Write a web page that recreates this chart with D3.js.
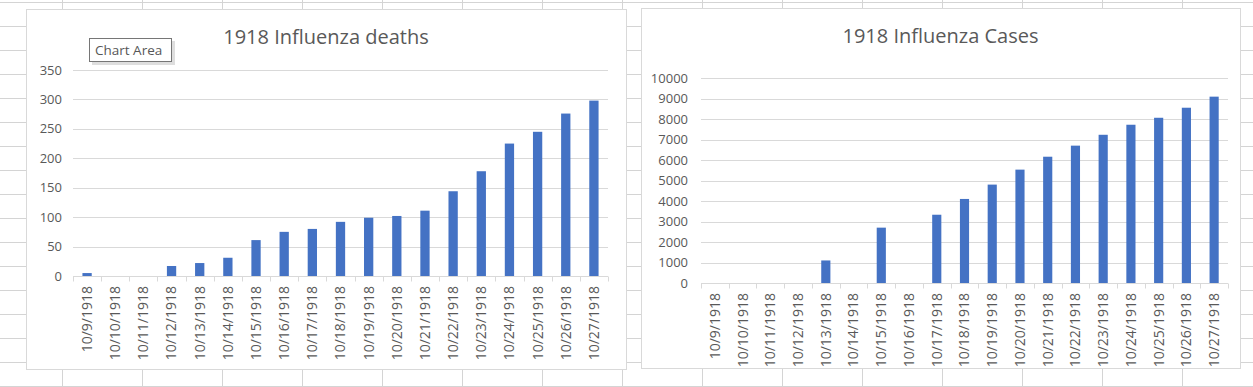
<!DOCTYPE html>
<html>
<head>
<meta charset="utf-8">
<script src="https://cdn.jsdelivr.net/npm/d3@7"></script>
<style>
  body { margin: 0; background: #fff; }
  svg text { font-family: "Open Sans", "Noto Sans", sans-serif; fill: #595959; }
</style>
</head>
<body>
<div id="sheet"></div>
<script>
// data
var dates = ["10/9/1918", "10/10/1918", "10/11/1918", "10/12/1918", "10/13/1918",
  "10/14/1918", "10/15/1918", "10/16/1918", "10/17/1918", "10/18/1918", "10/19/1918",
  "10/20/1918", "10/21/1918", "10/22/1918", "10/23/1918", "10/24/1918", "10/25/1918",
  "10/26/1918", "10/27/1918"];
var deaths = [5, 0, 0, 17, 22, 31, 61, 75, 80, 92, 99, 102, 111, 144, 178, 225, 245, 276, 298];
var cases = [0, 0, 0, 0, 1100, 0, 2700, 0, 3330, 4100, 4800, 5530, 6160, 6700, 7230, 7720, 8060, 8550, 9090];
var deathTicks = [0, 50, 100, 150, 200, 250, 300, 350];
var caseTicks = [0, 1000, 2000, 3000, 4000, 5000, 6000, 7000, 8000, 9000, 10000];

var W = 1253, H = 387;

var svg = d3.select("#sheet")
  .append("svg")
  .attr("width", W)
  .attr("height", H);

// spreadsheet cell grid behind the charts
var grid = svg.append("g").attr("stroke", "#d4d4d4").attr("stroke-width", 1);
for (var gx = 62.5; gx < W; gx += 80) {
  grid.append("line").attr("x1", gx).attr("x2", gx).attr("y1", 0).attr("y2", H);
}
for (var gy = 2.5; gy < H; gy += 24) {
  grid.append("line").attr("x1", 0).attr("x2", W).attr("y1", gy).attr("y2", gy);
}

function drawChart(opt) {
  var g = svg.append("g");

  // chart area box
  g.append("rect")
    .attr("x", opt.box[0] + 0.5)
    .attr("y", opt.box[1] + 0.5)
    .attr("width", opt.box[2])
    .attr("height", opt.box[3])
    .attr("fill", "#fff")
    .attr("stroke", "#d9d9d9");

  var x = d3.scaleBand()
    .domain(dates)
    .range([opt.left, opt.right])
    .paddingInner(0.67)
    .paddingOuter(0.335);

  var y = d3.scaleLinear()
    .domain([0, d3.max(opt.ticks)])
    .range([opt.bottom, opt.top]);

  // horizontal gridlines
  g.selectAll(".grid")
    .data(opt.ticks.slice(1))
    .enter()
    .append("line")
    .attr("x1", opt.left)
    .attr("x2", opt.right)
    .attr("y1", d => Math.round(y(d)) + 0.5)
    .attr("y2", d => Math.round(y(d)) + 0.5)
    .attr("stroke", "#d9d9d9");

  // y labels
  g.selectAll(".ylab")
    .data(opt.ticks)
    .enter()
    .append("text")
    .attr("x", opt.left - opt.labelGap)
    .attr("y", d => y(d))
    .attr("dy", "0.35em")
    .attr("text-anchor", "end")
    .style("font-size", "13px")
    .text(d => d);

  // bars
  g.selectAll(".bar")
    .data(opt.values)
    .enter()
    .append("rect")
    .attr("x", (d, i) => x(dates[i]))
    .attr("width", x.bandwidth())
    .attr("y", d => y(d))
    .attr("height", d => opt.bottom - y(d))
    .attr("fill", "#4472c4");

  // category axis line and ticks at band boundaries
  var axisY = Math.round(opt.bottom) + 0.5;
  g.append("line")
    .attr("x1", opt.left)
    .attr("x2", opt.right)
    .attr("y1", axisY)
    .attr("y2", axisY)
    .attr("stroke", "#d9d9d9");

  var step = (opt.right - opt.left) / dates.length;
  g.selectAll(".xtick")
    .data(d3.range(dates.length + 1))
    .enter()
    .append("line")
    .attr("x1", i => Math.round(opt.left + i * step) + 0.5)
    .attr("x2", i => Math.round(opt.left + i * step) + 0.5)
    .attr("y1", axisY)
    .attr("y2", axisY + 5)
    .attr("stroke", "#d9d9d9");

  // rotated date labels
  g.selectAll(".xlab")
    .data(dates)
    .enter()
    .append("text")
    .attr("transform", d => "translate(" + (x(d) + x.bandwidth() / 2) + "," + (opt.bottom + 10) + ") rotate(-90)")
    .attr("dy", "0.35em")
    .attr("text-anchor", "end")
    .style("font-size", "14px")
    .text(d => d);

  // title
  g.append("text")
    .attr("x", opt.box[0] + opt.box[2] / 2)
    .attr("y", opt.titleY)
    .attr("text-anchor", "middle")
    .style("font-size", "20px")
    .text(opt.title);
}

drawChart({
  title: "1918 Influenza deaths",
  values: deaths,
  ticks: deathTicks,
  box: [26, 9, 600, 360],
  left: 73, right: 608, top: 70, bottom: 276,
  labelGap: 11, titleY: 44
});

drawChart({
  title: "1918 Influenza Cases",
  values: cases,
  ticks: caseTicks,
  box: [641, 8, 599, 360],
  left: 701, right: 1228, top: 78, bottom: 283,
  labelGap: 13, titleY: 43
});

// the "Chart Area" hover tip from the screenshot
var tip = svg.append("g").attr("transform", "translate(89,38)");
tip.append("rect")
  .attr("x", 3).attr("y", 3).attr("width", 83).attr("height", 24)
  .attr("fill", "#c8c8c8").attr("opacity", 0.6);
tip.append("rect")
  .attr("x", 0.5).attr("y", 0.5).attr("width", 82).attr("height", 23)
  .attr("fill", "#fff").attr("stroke", "#767676");
tip.append("text")
  .attr("x", 6).attr("y", 17)
  .style("font-size", "13.5px")
  .style("fill", "#575757")
  .text("Chart Area");
</script>
</body>
</html>
